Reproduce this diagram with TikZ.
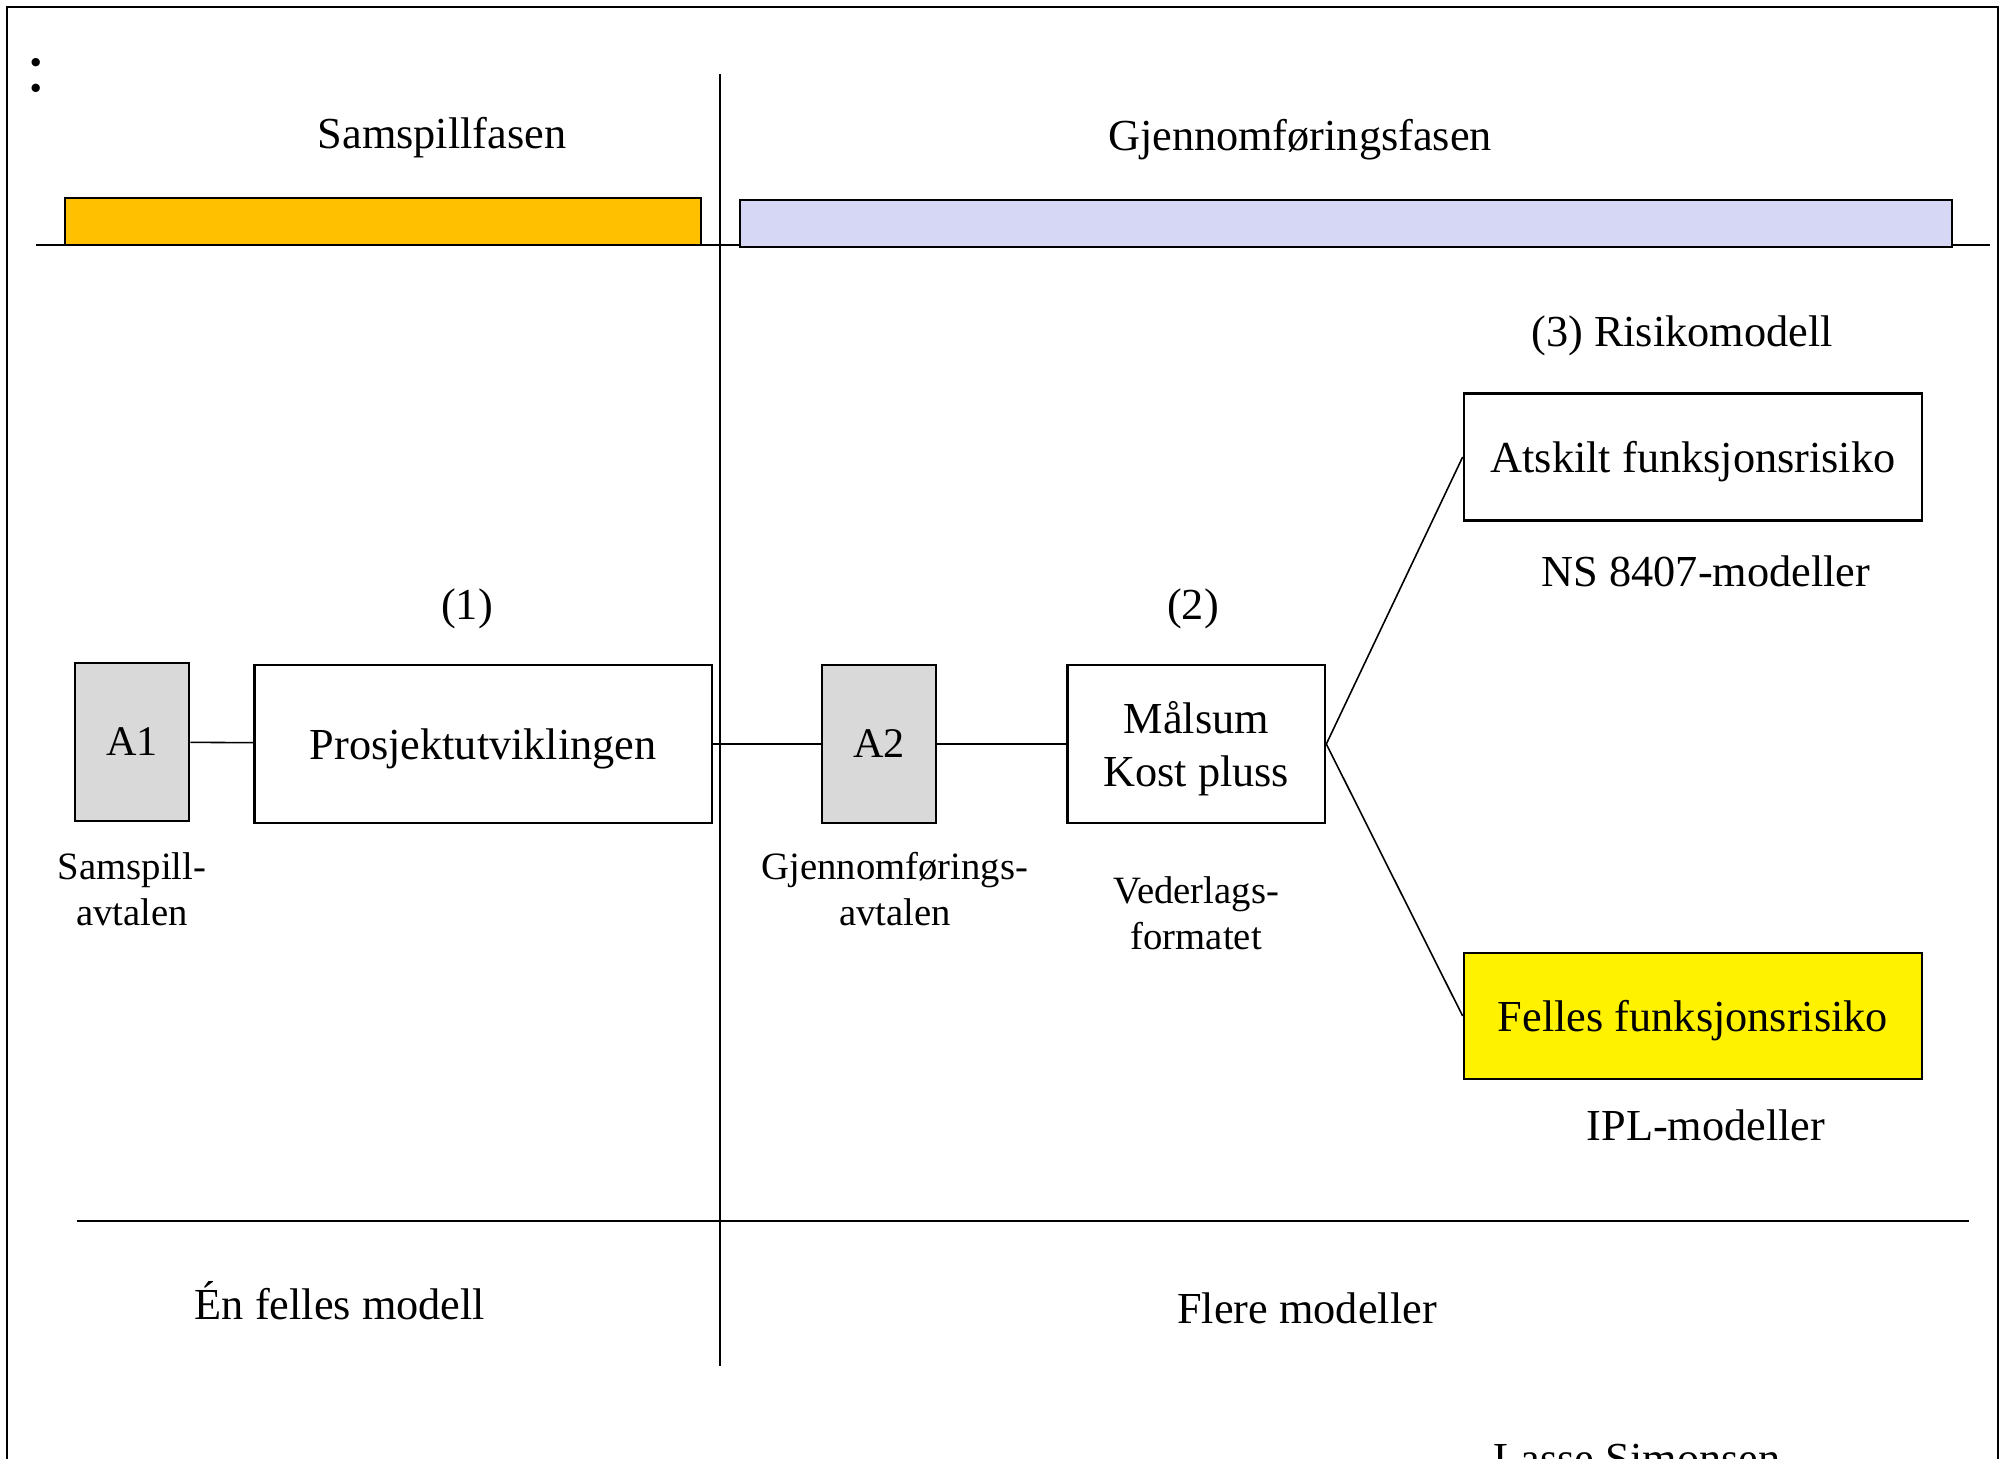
\documentclass[tikz,border=0pt]{standalone}
\usepackage{fontspec}
\setmainfont{Liberation Serif}
\usetikzlibrary{positioning}

\definecolor{phaseone}{HTML}{FFC000}
\definecolor{phasetwo}{HTML}{D5D7F4}
\definecolor{docgray}{HTML}{D9D9D9}

\begin{document}
\begin{tikzpicture}[x=0.01cm, y=-0.01cm,
    box/.style={draw, line width=0.7pt, inner sep=0pt, align=center, text depth=0pt, font=\fontsize{12.6}{15.3}\selectfont},
    doc/.style={box, fill=docgray, minimum width=1.14cm, minimum height=1.58cm, font=\fontsize{12}{14}\selectfont},
    lbl/.style={inner sep=0pt, font=\fontsize{12.6}{15.3}\selectfont},
    small/.style={inner sep=0pt, align=center, font=\fontsize{11}{13.1}\selectfont},
    link/.style={line width=0.45pt}]

    \clip (0,0) rectangle (2007,1458);
    \draw[line width=0.6pt] (7,7) rectangle (1998,1540);

    % phases
    \draw[link] (36,245) -- (1990,245);
    \draw[fill=phaseone, line width=0.7pt] (65,198) rectangle (701,245);
    \draw[fill=phasetwo, line width=0.7pt] (740,200) rectangle (1952,247);
    \draw[link] (720,74) -- (720,1366);
    \draw[link] (77,1221) -- (1969,1221);

    \node[inner sep=0pt, font=\fontsize{20}{24}\selectfont] (colon) at (36,76) {:};
    \node[lbl] (fase1) at (442,138) {Samspillfasen};
    \node[lbl] (fase2) at (1300,140) {Gjennomføringsfasen};

    % main row
    \node[doc] (a1) at (132,742) {A1};
    \node[box, minimum width=4.57cm, minimum height=1.575cm, right=0.63cm of a1, yshift=-0.02cm] (prosj) {Prosjektutviklingen};
    \node[doc, right=1.075cm of prosj] (a2) {A2};
    \node[box, minimum width=2.575cm, minimum height=1.575cm, right=1.29cm of a2] (malsum) {Målsum\\Kost pluss};

    \node[box, minimum width=4.58cm, minimum height=1.27cm] (atskilt) at (1693,457) {Atskilt funksjonsrisiko};
    \node[box, fill=yellow, minimum width=4.58cm, minimum height=1.26cm] (felles) at (1693,1016) {Felles funksjonsrisiko};

    % labels
    \node[lbl] (num1) at (467,609) {(1)};
    \node[lbl] (num2) at (1193,609) {(2)};
    \node[lbl] (num3) at (1682,336) {(3) Risikomodell};
    \node[lbl] (ns) at (1706,571) {NS 8407-modeller};
    \node[lbl] (ipl) at (1706,1125) {IPL-modeller};
    \node[small, below=0.30cm of a1] (avt1) {Samspill-\\avtalen};
    \node[small, below=0.27cm of a2, xshift=0.16cm] (avt2) {Gjennomførings-\\avtalen};
    \node[small, below=0.52cm of malsum] (format) {Vederlags-\\formatet};
    \node[lbl] (enmodell) at (340,1301) {Én felles modell};
    \node[lbl] (flere) at (1307,1308) {Flere modeller};
    \node[lbl, anchor=base] (navn) at (1637,1473) {Lasse Simonsen};

    \draw[link] (a1) -- (prosj);
    \draw[link] (prosj) -- (a2);
    \draw[link] (a2) -- (malsum);
    \draw[link] (malsum.east) -- (atskilt.west);
    \draw[link] (malsum.east) -- (felles.west);
\end{tikzpicture}
\end{document}
